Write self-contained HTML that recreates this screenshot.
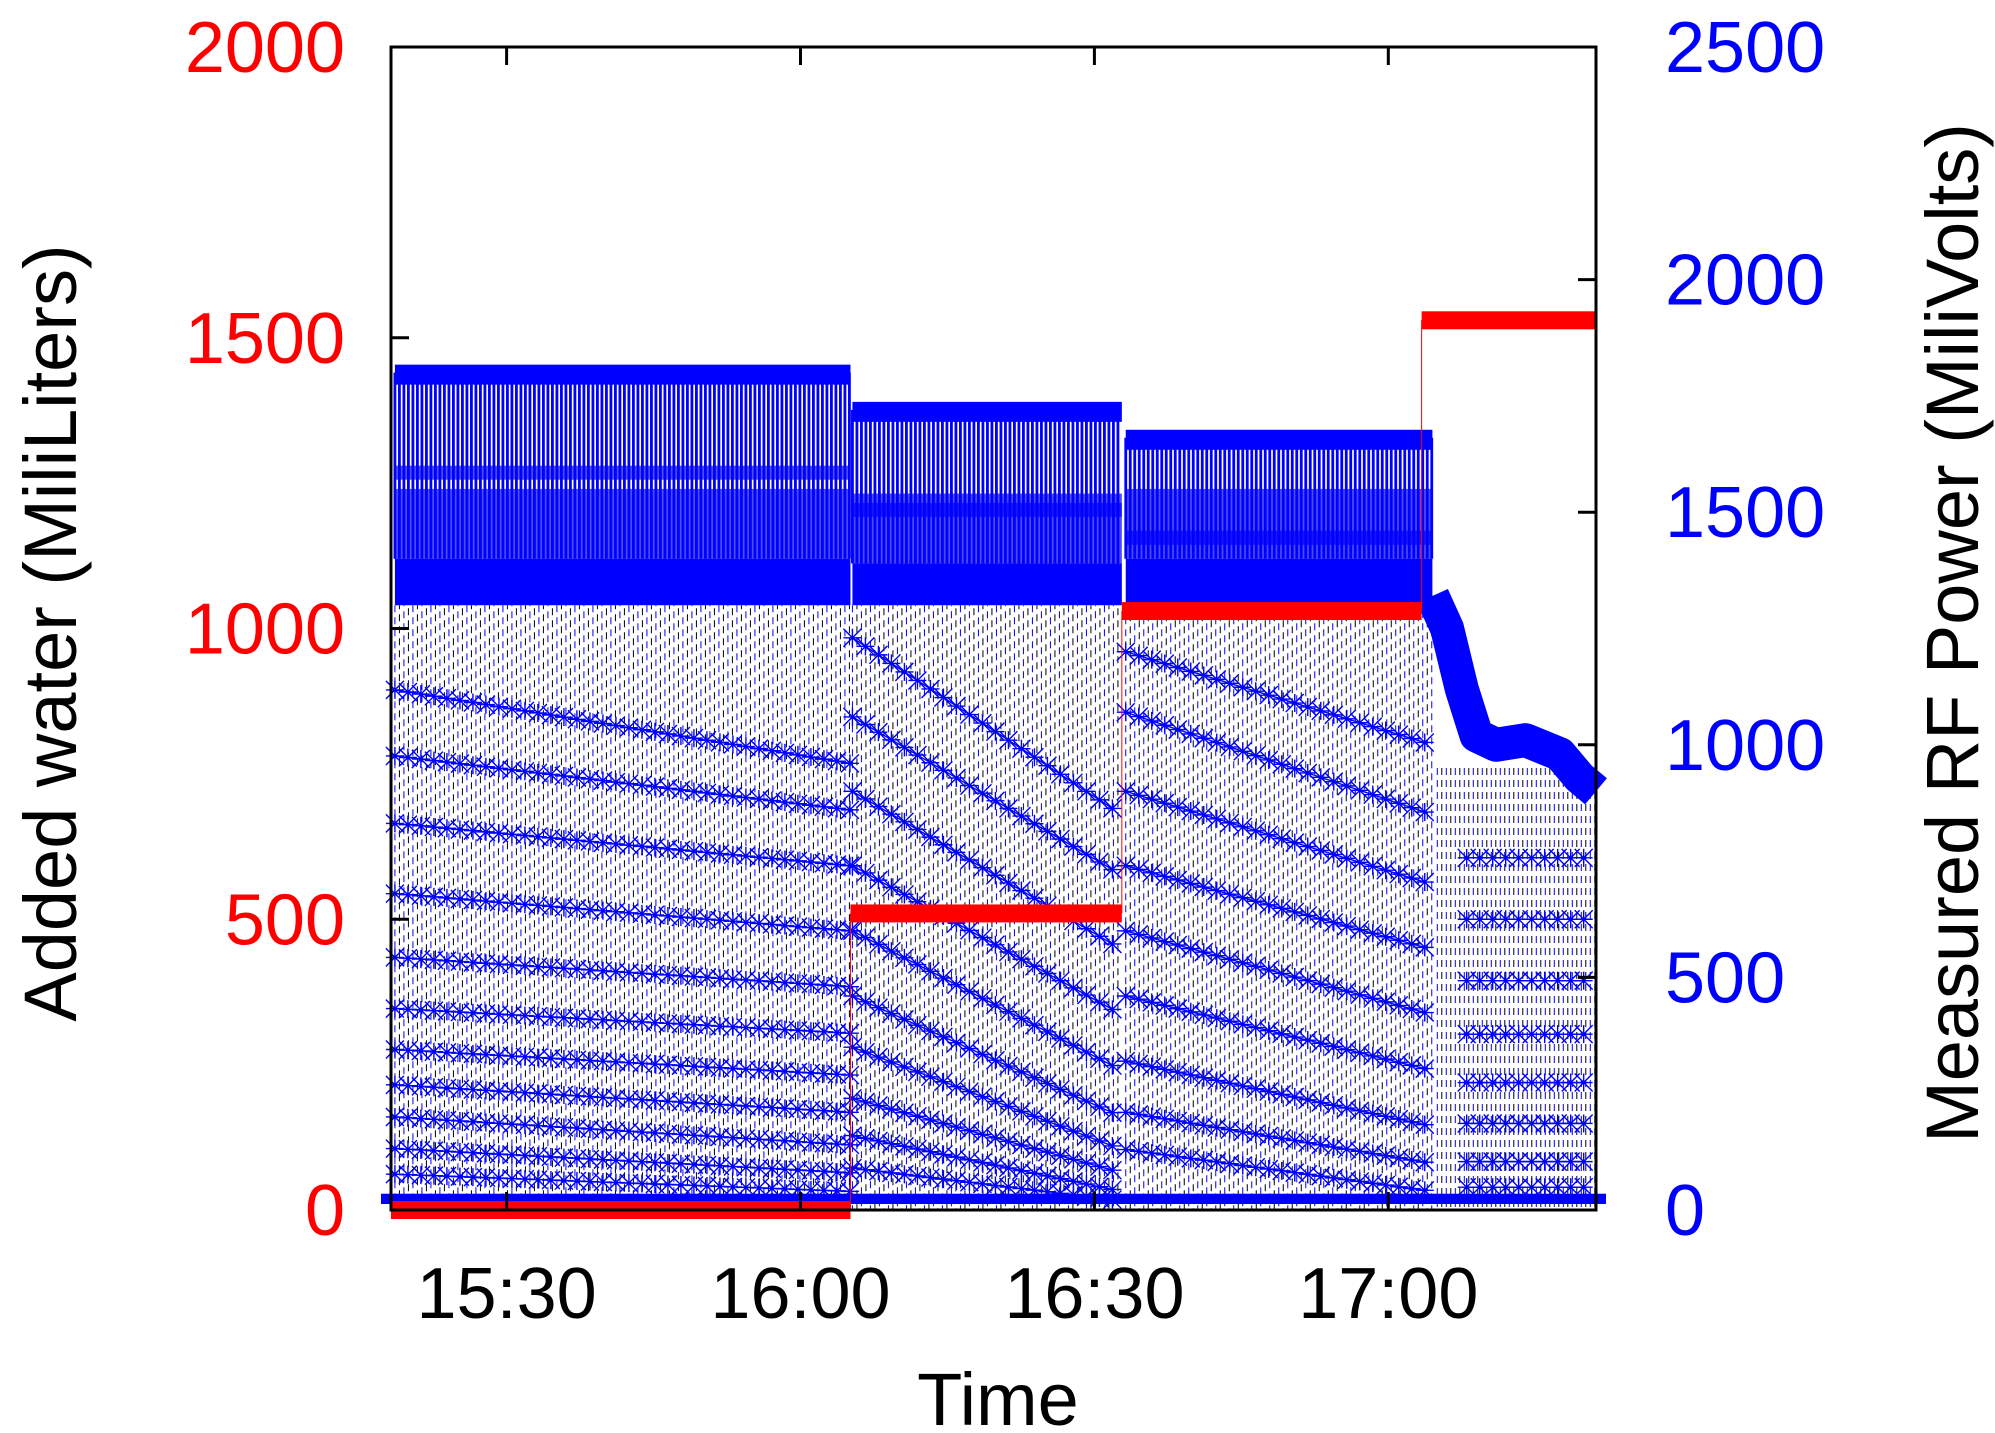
<!DOCTYPE html>
<html><head><meta charset="utf-8"><style>
html,body{margin:0;padding:0;background:#fff}
svg{display:block}
text{font-family:"Liberation Sans",sans-serif}
</style></head><body>
<svg id="chart" width="1995" height="1433" viewBox="0 0 1995 1433" xmlns="http://www.w3.org/2000/svg">
<g id="marks"></g>
<g id="axes"></g>
</svg>
<script>
// ---- data (time in minutes after 15:00) ----
const xTickLabels = ["15:30","16:00","16:30","17:00"];
const xTickValues = [30,60,90,120];
const leftTicks = [0,500,1000,1500,2000];
const rightTicks = [0,500,1000,1500,2000,2500];
// added water steps: [start, end, ml]
const waterStart = [18.2, 65.1, 92.8, 123.4];
const waterEnd   = [65.1, 92.8, 123.4, 141.2];
const waterValue = [0, 510, 1030, 1530];
// RF power segments
const segStart = [18.6, 65.3, 93.2];
const segEnd   = [65.1, 92.8, 124.5];
const segTop   = [1800, 1720, 1660];
const bandLow  = [1300, 1300, 1300];
const bandHigh = [1400, 1390, 1400];
// descending curves per segment (mV at start / end)
const curveStart1 = [1118, 976, 831, 680, 543, 433, 345, 269, 200, 132, 77];
const curveEnd1   = [960, 860, 740, 600, 480, 380, 290, 210, 140, 80, 40];
const curveStart2 = [1230, 1060, 900, 740, 600, 460, 350, 240, 160, 90];
const curveEnd2   = [850, 720, 560, 420, 300, 200, 130, 80, 40, 20];
const curveStart3 = [1200, 1070, 900, 740, 600, 460, 320, 210, 130];
const curveEnd3   = [1000, 850, 700, 560, 420, 300, 180, 100, 40];
// final segment
const dropTimes  = [124.5, 126.0, 127.5, 129.0, 131.0, 134, 137.5, 139.5, 141.2];
const dropValues = [1320, 1250, 1120, 1020, 1000, 1010, 980, 930, 900];
const finalLevels = [757, 625, 493, 378, 274, 186, 104, 49];
const finalStart = 125.0;
const finalEnd = 141.2;

// ---- scales ----
const L=391,R=1596,T=47,B=1210;
const X0=18.2, X1=141.2;
const sx = t => L + (t-X0)/(X1-X0)*(R-L);
const syL = v => B - v/2000*(B-T);
const syR = v => B - v/2500*(B-T);
const NS="http://www.w3.org/2000/svg";
const marks=document.getElementById('marks');
const axes=document.getElementById('axes');
function mk(tag,attrs,parent){const e=document.createElementNS(NS,tag);for(const k in attrs)e.setAttribute(k,attrs[k]);parent.appendChild(e);return e;}

// vertical dashed lines below band
for(let i=0;i<segStart.length;i++){
  const g=mk('g',{},marks);
  
  
  let k=0;
  for(let x=sx(segStart[i]); x<sx(segEnd[i]); x+=4.5){
    const col = (k%2)?'#000':'#00f';
    mk('line',{x1:x,x2:x,y1:syR(bandLow[i]),y2:B,stroke:col,'stroke-width':1,'stroke-dasharray':'7 5','stroke-dashoffset':(k*3)%12},g);
    k++;
  }
}
{
  const g=mk('g',{},marks);
  
  
  let k=0;
  for(let x=sx(finalStart); x<R; x+=4.5){
    mk('line',{x1:x,x2:x,y1:syR(950),y2:B,stroke:(k%2)?'#000':'#00f','stroke-width':1,'stroke-dasharray':'7 5'},g);k++;
  }
}
// descending X-marker curves
function xMark(g,x,y,s){
  mk('path',{d:`M${x-s} ${y-s}L${x+s} ${y+s}M${x-s} ${y+s}L${x+s} ${y-s}M${x-s} ${y}L${x+s} ${y}M${x} ${y-s}L${x} ${y+s}`,stroke:'#00f','stroke-width':1.4,fill:'none'},g);
}
function curves(t0,t1,starts,ends,name){
  const g=mk('g',{},marks);
  
  
  for(let j=0;j<starts.length;j++){
    const x0=sx(t0),x1=sx(t1);
    let pts=[];
    for(let x=x0;x<=x1;x+=13){
      const f=(x-x0)/(x1-x0);
      const v=starts[j]+(ends[j]-starts[j])*f;
      const y=syR(v);
      pts.push(x+','+y);
      xMark(g,x,y,9);
    }
    mk('polyline',{points:pts.join(' '),fill:'none',stroke:'#00f','stroke-width':1.4},g);
  }
}
curves(segStart[0],segEnd[0],curveStart1,curveEnd1,'rf-curves-segment-1');
curves(segStart[1],segEnd[1],curveStart2,curveEnd2,'rf-curves-segment-2');
curves(segStart[2],segEnd[2],curveStart3,curveEnd3,'rf-curves-segment-3');
curves(finalStart+3,finalEnd,finalLevels,finalLevels,'rf-curves-segment-4');

// dense upper band
for(let i=0;i<segStart.length;i++){
  const g=mk('g',{},marks);
  
  
  const x0=sx(segStart[i]),x1=sx(segEnd[i]);
  mk('rect',{x:x0,y:syR(bandHigh[i]),width:x1-x0,height:syR(bandLow[i])-syR(bandHigh[i]),fill:'#00f'},g);
  for(let x=x0;x<x1;x+=4.5){
    mk('line',{x1:x,x2:x,y1:syR(segTop[i]),y2:syR(bandHigh[i]),stroke:'#00f','stroke-width':2.8},g);
  }
  mk('rect',{x:x0,y:syR(segTop[i])-8,width:x1-x0,height:20,fill:'#00f'},g);
  mk('rect',{x:x0,y:syR(segTop[i]-200),width:x1-x0,height:14,fill:'#00f',opacity:0.7},g);
  mk('rect',{x:x0,y:syR(bandHigh[i]+150),width:x1-x0,height:syR(bandHigh[i])-syR(bandHigh[i]+150),fill:'#00f',opacity:0.7},g);
}
// final drop
{
  const g=mk('g',{},marks);
  
  
  mk('polyline',{points:dropTimes.map((t,i)=>sx(t)+','+syR(dropValues[i])).join(' '),fill:'none',stroke:'#00f','stroke-width':34,'stroke-linejoin':'round'},g);
}
// bottom band near zero
{
  const b=mk('rect',{x:L-10,y:syR(35),width:R-L+20,height:syR(0)-syR(35)-6,fill:'#00f'},marks);
  
  
}
// water steps
{
  const g=mk('g',{},marks);
  
  
  for(let i=0;i<waterStart.length;i++){
    const r=mk('rect',{x:sx(waterStart[i]),y:syL(waterValue[i])-9,width:sx(waterEnd[i])-sx(waterStart[i]),height:18,fill:'#f00'},g);
    
    
    if(i>0) mk('line',{x1:sx(waterStart[i]),x2:sx(waterStart[i]),y1:syL(waterValue[i-1]),y2:syL(waterValue[i]),stroke:'#f00','stroke-width':1},g);
  }
}
// axes frame
mk('rect',{x:L,y:T,width:R-L,height:B-T,fill:'none',stroke:'#000','stroke-width':3},axes);
leftTicks.forEach(v=>{
  const y=syL(v);
  mk('line',{x1:L,x2:L+18,y1:y,y2:y,stroke:'#000','stroke-width':3},axes);
  const t=mk('text',{x:345,y:y+25,'text-anchor':'end','font-size':72,fill:'#f00'},axes);
  t.textContent=v;
  
  
});
rightTicks.forEach(v=>{
  const y=syR(v);
  mk('line',{x1:R-18,x2:R,y1:y,y2:y,stroke:'#000','stroke-width':3},axes);
  const t=mk('text',{x:1665,y:y+25,'text-anchor':'start','font-size':72,fill:'#00f'},axes);
  t.textContent=v;
  
  
});
xTickValues.forEach((v,i)=>{
  const x=sx(v);
  mk('line',{x1:x,x2:x,y1:B,y2:B-18,stroke:'#000','stroke-width':3},axes);
  mk('line',{x1:x,x2:x,y1:T,y2:T+18,stroke:'#000','stroke-width':3},axes);
  const t=mk('text',{x:x,y:1318,'text-anchor':'middle','font-size':72,fill:'#000'},axes);
  t.textContent=xTickLabels[i];
  
  
});
</script>
<svg style="position:absolute;left:0;top:0" width="1995" height="1433">
<text x="998" y="1425" text-anchor="middle" font-size="74" font-family="Liberation Sans, sans-serif">Time</text>
<text transform="translate(76,633) rotate(-90)" text-anchor="middle" font-size="74" font-family="Liberation Sans, sans-serif">Added water (MiliLiters)</text>
<text transform="translate(1978,633) rotate(-90)" text-anchor="middle" font-size="74" font-family="Liberation Sans, sans-serif">Measured RF Power (MiliVolts)</text>
</svg>
</body></html>
